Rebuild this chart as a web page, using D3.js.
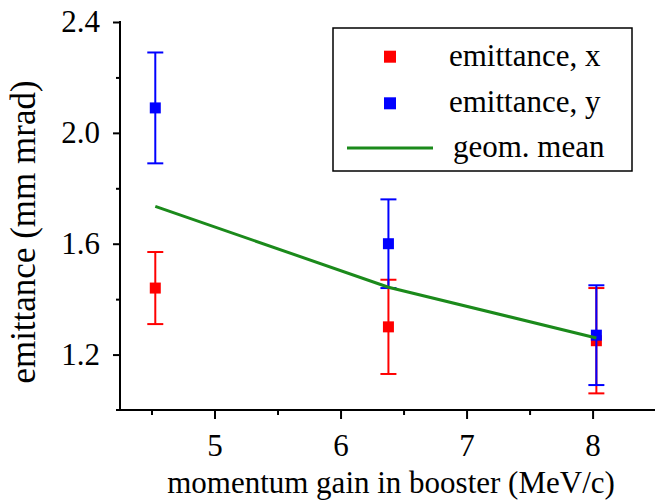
<!DOCTYPE html>
<html>
<head>
<meta charset="utf-8">
<script src="https://cdn.jsdelivr.net/npm/d3@7"></script>
<style>
  html, body { margin: 0; padding: 0; background: #fff; }
  svg { display: block; font-family: "Liberation Serif", "Times New Roman", serif; }
</style>
</head>
<body>
<svg id="chart" width="655" height="502"></svg>
<script>
// ---- data ----
const momentumGain = [4.53, 6.38, 8.03];
const emittanceX = [1.44, 1.30, 1.25];
const emittanceXErr = [0.13, 0.17, 0.19];
const emittanceY = [2.09, 1.60, 1.27];
const emittanceYErr = [0.20, 0.16, 0.18];
const geomMean = [1.735, 1.443, 1.26];
const xMajorTicks = [5, 6, 7, 8];
const xMinorTicks = [4.5, 5.5, 6.5, 7.5];
const yMajorTicks = [1.2, 1.6, 2.0, 2.4];
const yMinorTicks = [1.4, 1.8, 2.2];
const legendLabels = ["emittance, x", "emittance, y", "geom. mean"];
const xTitle = "momentum gain in booster (MeV/c)";
const yTitle = "emittance (mm mrad)";

const svg = d3.select("#chart");
const x = d3.scaleLinear().domain([4.25, 8.5]).range([120, 655.6]);
const y = d3.scaleLinear().domain([1.0, 2.4]).range([410, 22]);

const RED = "#ff0000", BLUE = "#0000ff", GREEN = "#1b8a1b";

// axes
const axisG = svg.append("g");
axisG.append("g").attr("transform", "translate(120,0)")
  .call(d3.axisLeft(y).tickValues(yMajorTicks).tickSize(7).tickPadding(13).tickFormat(d3.format(".1f")));
axisG.append("g").attr("transform", "translate(120,0)")
  .call(d3.axisLeft(y).tickValues(yMinorTicks).tickSize(4).tickFormat(""));
axisG.append("g").attr("transform", "translate(0,410)")
  .call(d3.axisBottom(x).tickValues(xMajorTicks).tickSize(9).tickPadding(15).tickFormat(d3.format("d")));
axisG.append("g").attr("transform", "translate(0,410)")
  .call(d3.axisBottom(x).tickValues(xMinorTicks).tickSize(5).tickFormat(""));
axisG.selectAll(".domain").remove();
axisG.selectAll(".tick line").attr("stroke", "#000").attr("stroke-width", 2);
axisG.selectAll(".tick text").attr("fill", "#000").style("font-size", "31px")
  .style("font-family", "Liberation Serif");
// axis lines
axisG.append("line").attr("x1", 120).attr("x2", 120).attr("y1", y(2.4) - 1).attr("y2", y(1.0) + 1)
  .attr("stroke", "#000").attr("stroke-width", 2);
axisG.append("line").attr("x1", 116).attr("x2", 655).attr("y1", y(1.0)).attr("y2", y(1.0))
  .attr("stroke", "#000").attr("stroke-width", 2);

// axis titles
svg.append("text").attr("x", 391).attr("y", 493).attr("text-anchor", "middle")
  .style("font-size", "31px").text(xTitle);
svg.append("text").attr("transform", "translate(35,232) rotate(-90)").attr("text-anchor", "middle")
  .style("font-size", "35px").text(yTitle);

// error bars + markers
function series(vals, errs, color) {
  const g = svg.append("g");
  momentumGain.forEach((xv, i) => {
    const cx = x(xv), lo = y(vals[i] - errs[i]), hi = y(vals[i] + errs[i]);
    g.append("line").attr("x1", cx).attr("x2", cx).attr("y1", lo).attr("y2", hi)
      .attr("stroke", color).attr("stroke-width", 2);
    [lo, hi].forEach(yy => g.append("line").attr("x1", cx - 8).attr("x2", cx + 8)
      .attr("y1", yy).attr("y2", yy).attr("stroke", color).attr("stroke-width", 2));
    g.append("rect").attr("x", cx - 5.5).attr("y", y(vals[i]) - 5.5).attr("width", 11).attr("height", 11)
      .attr("fill", color);
  });
}
series(emittanceX, emittanceXErr, RED);
series(emittanceY, emittanceYErr, BLUE);

// geometric mean line
const line = d3.line().x((d, i) => x(momentumGain[i])).y(d => y(d));
svg.append("path").datum(geomMean).attr("d", line).attr("fill", "none")
  .attr("stroke", GREEN).attr("stroke-width", 3);

// legend
const lg = svg.append("g");
lg.append("rect").attr("x", 333).attr("y", 28).attr("width", 299).attr("height", 143)
  .attr("fill", "#fff").attr("stroke", "#000").attr("stroke-width", 1.5);
const rowY = [56.7, 103.3, 148];
const legendColors = [RED, BLUE, GREEN];
legendLabels.forEach((lab, i) => {
  if (i < 2) {
    lg.append("rect").attr("x", 390 - 6).attr("y", rowY[i] - 6).attr("width", 12).attr("height", 12)
      .attr("fill", legendColors[i]);
  } else {
    lg.append("line").attr("x1", 347).attr("x2", 433).attr("y1", rowY[i]).attr("y2", rowY[i])
      .attr("stroke", legendColors[i]).attr("stroke-width", 3);
  }
  lg.append("text").attr("x", i < 2 ? 449 : 453).attr("y", rowY[i] + 9)
    .style("font-size", "31px").text(lab);
});
</script>
</body>
</html>
